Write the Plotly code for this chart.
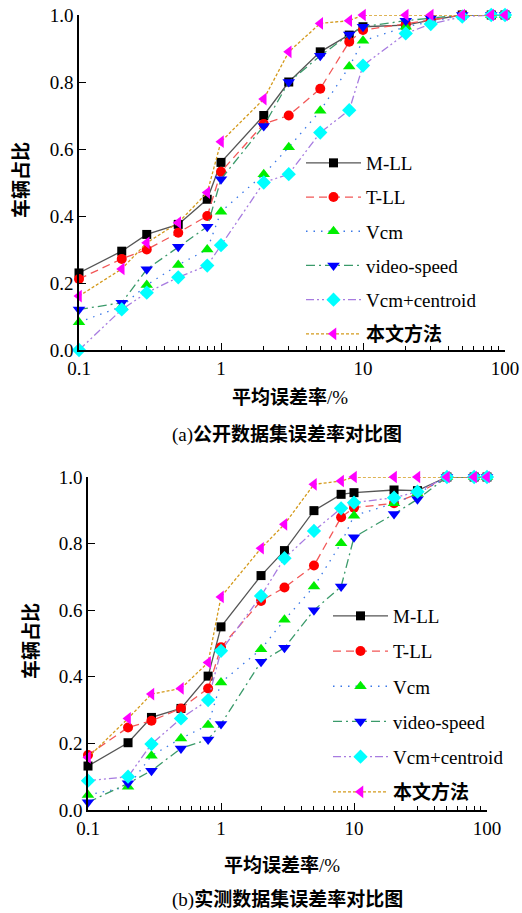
import plotly.graph_objects as go

W, H = 522, 913

x_vals = [0.1, 0.2, 0.3, 0.5, 0.8, 1, 2, 3, 5, 8, 10, 20, 30, 50, 80, 100]
series_names = ["M-LL", "T-LL", "Vcm", "video-speed", "Vcm+centroid", "<b>本文方法</b>"]

# (a) public dataset
a_mll = [0.23, 0.295, 0.345, 0.375, 0.45, 0.56, 0.70, 0.80, 0.89, 0.94, 0.965, 0.97, 0.985, 1.0, 1.0, 1.0]
a_tll = [0.212, 0.272, 0.30, 0.35, 0.40, 0.532, 0.675, 0.70, 0.78, 0.92, 0.955, 0.973, 0.985, 1.0, 1.0, 1.0]
a_vcm = [0.083, 0.13, 0.194, 0.254, 0.30, 0.413, 0.525, 0.605, 0.714, 0.846, 0.923, 0.965, 0.98, 1.0, 1.0, 1.0]
a_video = [0.121, 0.141, 0.241, 0.308, 0.368, 0.51, 0.669, 0.80, 0.878, 0.942, 0.965, 0.983, 0.99, 1.0, 1.0, 1.0]
a_vcmc = [0.0, 0.121, 0.171, 0.217, 0.252, 0.313, 0.50, 0.525, 0.649, 0.716, 0.849, 0.945, 0.973, 0.995, 1.0, 1.0]
a_ours = [0.161, 0.242, 0.32, 0.38, 0.47, 0.622, 0.749, 0.89, 0.975, 0.983, 1.0, 1.0, 1.0, 1.0, 1.0, 1.0]

# (b) measured dataset
b_mll = [0.132, 0.202, 0.278, 0.305, 0.402, 0.55, 0.704, 0.779, 0.899, 0.948, 0.953, 0.961, 0.959, 1.0, 1.0, 1.0]
b_tll = [0.165, 0.248, 0.268, 0.305, 0.365, 0.489, 0.628, 0.668, 0.734, 0.879, 0.908, 0.921, 0.95, 1.0, 1.0, 1.0]
b_vcm = [0.045, 0.07, 0.163, 0.215, 0.255, 0.383, 0.483, 0.571, 0.671, 0.801, 0.884, 0.921, 0.95, 1.0, 1.0, 1.0]
b_video = [0.023, 0.08, 0.118, 0.185, 0.212, 0.258, 0.445, 0.487, 0.60, 0.671, 0.819, 0.889, 0.933, 1.0, 1.0, 1.0]
b_vcmc = [0.088, 0.10, 0.198, 0.275, 0.33, 0.478, 0.643, 0.756, 0.838, 0.906, 0.923, 0.938, 0.956, 1.0, 1.0, 1.0]
b_ours = [0.158, 0.275, 0.348, 0.365, 0.443, 0.64, 0.786, 0.858, 0.978, 0.988, 1.0, 1.0, 1.0, 1.0, 1.0, 1.0]

x_tickvals = [0.1, 1, 10, 100]
x_ticktext = ["0.1", "1", "10", "100"]
x_minor = [0.2, 0.3, 0.4, 0.5, 0.6, 0.7, 0.8, 0.9, 2, 3, 4, 5, 6, 7, 8, 9,
           20, 30, 40, 50, 60, 70, 80, 90]
y_tickvals = [0.0, 0.2, 0.4, 0.6, 0.8, 1.0]
y_ticktext = ["0.0", "0.2", "0.4", "0.6", "0.8", "1.0"]

styles = [
    dict(line=dict(color="#555555", width=1.3, dash="solid"),
         marker=dict(symbol="square", color="#000000", size=9)),
    dict(line=dict(color="#f25757", width=1.3, dash="8px,5px"),
         marker=dict(symbol="circle", color="#ff0000", size=10)),
    dict(line=dict(color="#3a78e8", width=1.3, dash="1.5px,6px"),
         marker=dict(symbol="triangle-up", color="#00ee00", size=11)),
    dict(line=dict(color="#3a9a6a", width=1.3, dash="9px,4px,2px,4px"),
         marker=dict(symbol="triangle-down", color="#0000ff", size=11)),
    dict(line=dict(color="#a77be0", width=1.3, dash="8px,3px,2px,3px,2px,3px"),
         marker=dict(symbol="diamond", color="#00ffff", size=11)),
    dict(line=dict(color="#d49a1c", width=1.3, dash="3px,2px"),
         marker=dict(symbol="triangle-left", color="#ff00ff", size=11)),
]

SERIF = "Liberation Serif, Noto Sans CJK SC"

fig = go.Figure()

def add_set(data, xa, ya, legend):
    for i, (name, vals) in enumerate(zip(series_names, data)):
        st = styles[i]
        fig.add_trace(go.Scatter(
            x=x_vals, y=vals, name=name, mode="lines+markers",
            line=st["line"], marker=dict(**st["marker"], line=dict(width=0)),
            xaxis=xa, yaxis=ya, legend=legend, cliponaxis=False,
            legendgroup=legend + str(i),
        ))

add_set([a_mll, a_tll, a_vcm, a_video, a_vcmc, a_ours], "x", "y", "legend")
add_set([b_mll, b_tll, b_vcm, b_video, b_vcmc, b_ours], "x2", "y2", "legend2")

def px(x):
    return x / W

def py(y):
    return 1 - y / H

axis_common = dict(showline=True, linecolor="black", linewidth=1.5, showgrid=False,
                   zeroline=False, ticks="inside", tickcolor="black", tickwidth=1.3,
                   automargin=False,
                   tickfont=dict(family=SERIF, size=19, color="black"))

xa = dict(type="log", range=[-1, 2], tickmode="array", tickvals=x_tickvals,
          ticktext=x_ticktext, ticklen=7,
          minor=dict(tickvals=x_minor, ticks="inside", ticklen=4, tickcolor="black",
                     tickwidth=1.1, showgrid=False),
          **axis_common)
ya = dict(range=[0, 1.0], tickmode="array", tickvals=y_tickvals, ticktext=y_ticktext,
          ticklen=7, **axis_common)

leg_common = dict(xanchor="left", yanchor="top", bgcolor="rgba(0,0,0,0)",
                  font=dict(family=SERIF, size=19, color="black"), itemwidth=55)

fig.update_layout(
    width=W, height=H, margin=dict(l=0, r=0, t=0, b=0, pad=0, autoexpand=False),
    paper_bgcolor="white", plot_bgcolor="white", showlegend=True,
    xaxis=dict(domain=[px(79), px(505)], anchor="y", **xa),
    yaxis=dict(domain=[py(350), py(15)], anchor="x", **ya),
    xaxis2=dict(domain=[px(88), px(487)], anchor="y2", **xa),
    yaxis2=dict(domain=[py(810), py(477)], anchor="x2", **ya),
    legend=dict(x=px(301), y=py(144), tracegroupgap=6.5, **leg_common),
    legend2=dict(x=px(328), y=py(597), tracegroupgap=7.5, **leg_common),
)

ann_font = dict(family=SERIF, size=19, color="black")
anns = [
    (px(290), py(397), "<b>平均误差率</b>/%", 0),
    (px(287), py(435), "(a)<b>公开数据集误差率对比图</b>", 0),
    (px(282), py(865), "<b>平均误差率</b>/%", 0),
    (px(287), py(899), "(b)<b>实测数据集误差率对比图</b>", 0),
    (px(21), py(180), "<b>车辆占比</b>", -90),
    (px(31), py(641), "<b>车辆占比</b>", -90),
]
for x, y, t, ang in anns:
    fig.add_annotation(x=x, y=y, xref="paper", yref="paper", text=t, showarrow=False,
                       font=ann_font, textangle=ang, xanchor="center", yanchor="middle")

fig.write_html("out.html", config={"displayModeBar": False},
               post_script="document.body.style.margin='0';document.body.style.overflow='hidden';")
